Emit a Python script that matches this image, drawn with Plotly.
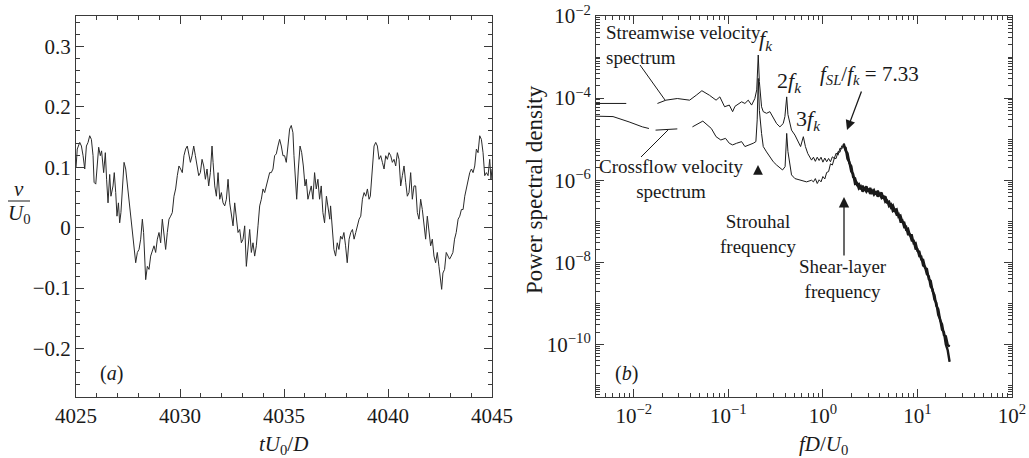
import plotly.graph_objects as go

# ---------------- data: panel (a) time series ----------------
t_a = [4025.00, 4025.06, 4025.18, 4025.26, 4025.34, 4025.42, 4025.50, 4025.58, 4025.66, 4025.74,
       4025.82, 4025.87, 4025.95, 4026.01, 4026.09, 4026.17, 4026.23, 4026.33, 4026.41, 4026.47,
       4026.54, 4026.62, 4026.68, 4026.78, 4026.84, 4026.91, 4026.97, 4027.04, 4027.10, 4027.16,
       4027.23, 4027.31, 4027.39, 4027.47, 4027.55, 4027.63, 4027.71, 4027.79, 4027.87, 4027.95,
       4028.03, 4028.11, 4028.19, 4028.25, 4028.32, 4028.35, 4028.43, 4028.51, 4028.59, 4028.67,
       4028.75, 4028.83, 4028.91, 4028.99, 4029.07, 4029.15, 4029.23, 4029.31, 4029.39, 4029.47,
       4029.55, 4029.63, 4029.71, 4029.79, 4029.87, 4029.95, 4030.03, 4030.11, 4030.19, 4030.27,
       4030.35, 4030.43, 4030.50, 4030.58, 4030.66, 4030.74, 4030.82, 4030.90, 4030.98, 4031.06,
       4031.14, 4031.22, 4031.30, 4031.38, 4031.46, 4031.54, 4031.59, 4031.67, 4031.75, 4031.83,
       4031.91, 4031.99, 4032.07, 4032.15, 4032.23, 4032.31, 4032.39, 4032.47, 4032.55, 4032.63,
       4032.71, 4032.79, 4032.87, 4032.95, 4033.03, 4033.11, 4033.19, 4033.27, 4033.35, 4033.43,
       4033.51, 4033.59, 4033.67, 4033.75, 4033.83, 4033.91, 4033.99, 4034.07, 4034.15, 4034.23,
       4034.31, 4034.39, 4034.47, 4034.55, 4034.63, 4034.71, 4034.79, 4034.87, 4034.95, 4035.03,
       4035.11, 4035.19, 4035.27, 4035.35, 4035.43, 4035.48, 4035.56, 4035.61, 4035.69, 4035.77,
       4035.85, 4035.93, 4036.01, 4036.07, 4036.15, 4036.23, 4036.31, 4036.39, 4036.47, 4036.55,
       4036.63, 4036.71, 4036.79, 4036.87, 4036.95, 4037.04, 4037.12, 4037.20, 4037.24, 4037.32,
       4037.40, 4037.48, 4037.56, 4037.64, 4037.72, 4037.80, 4037.88, 4037.96, 4038.04, 4038.13,
       4038.21, 4038.29, 4038.37, 4038.45, 4038.53, 4038.61, 4038.69, 4038.77, 4038.85, 4038.93,
       4039.01, 4039.09, 4039.15, 4039.20, 4039.25, 4039.33, 4039.41, 4039.49, 4039.57, 4039.65,
       4039.73, 4039.81, 4039.89, 4039.97, 4040.05, 4040.13, 4040.21, 4040.29, 4040.37, 4040.45,
       4040.53, 4040.61, 4040.69, 4040.77, 4040.85, 4040.93, 4041.01, 4041.09, 4041.17, 4041.25,
       4041.33, 4041.41, 4041.49, 4041.57, 4041.65, 4041.73, 4041.81, 4041.89, 4041.97, 4042.05,
       4042.13, 4042.21, 4042.29, 4042.37, 4042.45, 4042.53, 4042.58, 4042.64, 4042.72, 4042.80,
       4042.88, 4042.96, 4043.04, 4043.12, 4043.20, 4043.28, 4043.37, 4043.45, 4043.53, 4043.61,
       4043.69, 4043.77, 4043.85, 4043.93, 4044.01, 4044.09, 4044.17, 4044.25, 4044.33, 4044.41,
       4044.49, 4044.57, 4044.65, 4044.73, 4044.81, 4044.89, 4044.95, 4045.00]
v_a = [0.099, 0.130, 0.141, 0.135, 0.119, 0.097, 0.135, 0.141, 0.152, 0.146,
       0.119, 0.075, 0.072, 0.102, 0.133, 0.119, 0.127, 0.091, 0.124, 0.080,
       0.041, 0.088, 0.052, 0.069, 0.091, 0.058, 0.019, 0.041, 0.008, 0.025,
       0.069, 0.108, 0.097, 0.069, 0.047, 0.025, -0.003, -0.041, -0.058, -0.041,
       -0.036, -0.019, 0.014, -0.008, -0.052, -0.086, -0.064, -0.069, -0.047, -0.036,
       -0.030, -0.041, -0.019, -0.008, -0.025, 0.014, -0.008, -0.036, -0.008, 0.014,
       0.019, 0.025, 0.052, 0.064, 0.086, 0.102, 0.097, 0.091, 0.119, 0.130,
       0.135, 0.119, 0.108, 0.119, 0.135, 0.119, 0.102, 0.086, 0.091, 0.113,
       0.102, 0.080, 0.097, 0.069, 0.091, 0.135, 0.108, 0.069, 0.052, 0.091,
       0.047, 0.058, 0.041, 0.036, 0.047, 0.080, 0.041, 0.025, 0.003, 0.041,
       0.014, -0.008, -0.003, -0.025, -0.019, 0.003, -0.064, -0.025, -0.003, -0.041,
       -0.025, -0.047, -0.030, 0.003, 0.036, 0.047, 0.064, 0.058, 0.069, 0.080,
       0.091, 0.091, 0.097, 0.119, 0.122, 0.135, 0.146, 0.135, 0.119, 0.119,
       0.108, 0.135, 0.163, 0.169, 0.157, 0.119, 0.069, 0.047, 0.097, 0.135,
       0.124, 0.102, 0.069, 0.080, 0.047, 0.058, 0.069, 0.047, 0.091, 0.064,
       0.080, 0.047, 0.069, 0.025, 0.008, 0.052, 0.036, 0.014, 0.036, -0.003,
       -0.036, -0.047, -0.025, -0.036, -0.014, -0.019, -0.008, -0.030, -0.058, -0.019,
       -0.008, -0.003, -0.019, -0.008, 0.003, 0.014, 0.019, 0.047, 0.058, 0.052,
       0.064, 0.047, 0.052, 0.075, 0.091, 0.135, 0.141, 0.135, 0.113, 0.119,
       0.108, 0.097, 0.119, 0.113, 0.124, 0.119, 0.108, 0.113, 0.102, 0.124,
       0.113, 0.069, 0.086, 0.102, 0.075, 0.052, 0.058, 0.091, 0.047, 0.069,
       0.069, 0.025, 0.014, 0.047, 0.030, 0.003, -0.019, 0.019, -0.008, -0.030,
       -0.019, -0.047, -0.058, -0.041, -0.064, -0.091, -0.102, -0.075, -0.069, -0.041,
       -0.047, -0.052, -0.047, -0.041, -0.019, -0.008, 0.014, 0.019, 0.030, 0.030,
       0.052, 0.064, 0.080, 0.091, 0.097, 0.091, 0.102, 0.130, 0.124, 0.152,
       0.146, 0.124, 0.086, 0.091, 0.086, 0.113, 0.080, 0.097]

# ---------------- data: panel (b) spectra (log10 values) ----------------
# shared high-frequency band abscissae (log10 fD/U0)
logf_band = [-0.14, -0.12, -0.10, -0.08, -0.06, -0.04, -0.02, 0.00, 0.02, 0.04,
             0.06, 0.08, 0.10, 0.12, 0.14, 0.16, 0.18, 0.20, 0.22, 0.24,
             0.26, 0.28, 0.30, 0.32, 0.34, 0.36, 0.38, 0.40, 0.42, 0.44,
             0.46, 0.48, 0.50, 0.52, 0.54, 0.56, 0.58, 0.60, 0.62, 0.64,
             0.66, 0.68, 0.70, 0.72, 0.74, 0.76, 0.78, 0.80, 0.82, 0.84,
             0.86, 0.88, 0.90, 0.92, 0.94, 0.96, 0.98, 1.00, 1.02, 1.04,
             1.06, 1.08, 1.10, 1.12, 1.14, 1.16, 1.18, 1.20, 1.22, 1.24,
             1.26, 1.28, 1.30, 1.32, 1.34]

logf_stream_low = [-2.40, -2.24, -2.08, None, -1.75, -1.66, -1.54, -1.41, -1.34, -1.28,
                   -1.20, -1.13, -1.09, -1.04, -0.99, -0.955, -0.93, -0.913, -0.86, -0.825,
                   -0.79, -0.754, -0.72, -0.70, -0.684, -0.672, -0.66, -0.649, -0.631, -0.596,
                   -0.561, -0.525, -0.49, -0.455, -0.42, -0.402, -0.383, -0.37, -0.356, -0.332,
                   -0.296, -0.261, -0.236, -0.207, -0.185, -0.16]
logpsd_stream_low = [-4.13, -4.13, -4.13, None, -4.13, -4.05, -4.01, -4.05, -3.93, -3.82,
                     -3.93, -4.05, -3.97, -4.21, -4.17, -4.33, -4.20, -4.17, -4.09, -4.13,
                     -4.05, -4.17, -4.01, -3.80, -2.95, -3.60, -4.05, -4.21, -4.33, -4.37,
                     -4.33, -4.49, -4.62, -4.70, -4.62, -4.45, -3.97, -4.40, -4.53, -4.78,
                     -4.90, -5.06, -5.18, -4.94, -5.18, -5.35]
logpsd_stream_band = [-5.42, -5.51, -5.44, -5.54, -5.44, -5.52, -5.44, -5.56, -5.46, -5.55,
                      -5.47, -5.55, -5.43, -5.47, -5.34, -5.39, -5.22, -5.24, -5.11, -5.28,
                      -5.34, -5.58, -5.66, -5.92, -5.95, -6.11, -6.09, -6.22, -6.14, -6.22,
                      -6.15, -6.28, -6.19, -6.30, -6.24, -6.35, -6.26, -6.35, -6.30, -6.45,
                      -6.39, -6.54, -6.52, -6.66, -6.61, -6.74, -6.71, -6.89, -6.86, -7.02,
                      -7.03, -7.20, -7.18, -7.34, -7.34, -7.54, -7.53, -7.72, -7.74, -7.93,
                      -7.94, -8.13, -8.16, -8.41, -8.45, -8.70, -8.80, -9.06, -9.14, -9.41,
                      -9.51, -9.77, -9.80, -10.01, -10.05]

logf_cross_low = [-2.40, -2.22, -2.05, -1.91, -1.84, None, -1.77, -1.64, -1.54, None,
                  -1.38, -1.27, -1.18, -1.13, -1.08, -1.03, -0.99, -0.955, -0.913, -0.86,
                  -0.825, -0.772, -0.737, -0.709, -0.695, -0.684, -0.672, -0.649, -0.631, -0.596,
                  -0.561, -0.525, -0.49, -0.455, -0.427, -0.40, -0.383, -0.37, -0.356, -0.332,
                  -0.296, -0.243, -0.173, -0.12]
logpsd_cross_low = [-4.44, -4.45, -4.58, -4.70, -4.74, None, -4.78, -4.76, -4.75, None,
                    -4.70, -4.56, -4.74, -4.94, -5.02, -4.98, -5.10, -5.14, -5.10, -5.06,
                    -5.18, -5.14, -5.10, -5.06, -4.53, -3.52, -4.30, -4.86, -5.18, -5.31,
                    -5.43, -5.55, -5.63, -5.71, -5.75, -5.67, -4.86, -5.30, -5.51, -5.87,
                    -5.96, -6.00, -6.04, -6.00]
logpsd_cross_band = [-6.04, -5.96, -6.08, -5.99, -6.04, -5.91, -5.97, -5.81, -5.79, -5.60,
                     -5.63, -5.47, -5.47, -5.30, -5.32, -5.16, -5.19, -5.21, -5.48, -5.56,
                     -5.79, -5.85, -6.09, -6.07, -6.20, -6.15, -6.28, -6.20, -6.28, -6.21,
                     -6.33, -6.26, -6.35, -6.28, -6.40, -6.33, -6.43, -6.38, -6.53, -6.50,
                     -6.63, -6.59, -6.75, -6.72, -6.84, -6.82, -7.00, -6.98, -7.14, -7.13,
                     -7.32, -7.32, -7.47, -7.47, -7.67, -7.68, -7.85, -7.86, -8.08, -8.11,
                     -8.29, -8.34, -8.59, -8.66, -8.91, -8.99, -9.28, -9.39, -9.64, -9.70,
                     -10.00, -10.14, -10.42]

a_xticks = [4025, 4030, 4035, 4040, 4045]
b_xtickvals = [1e-2, 1e-1, 1e0, 1e1, 1e2]
b_xticktext = ["10<sup>\u22122</sup>", "10<sup>\u22121</sup>", "10<sup>0</sup>", "10<sup>1</sup>", "10<sup>2</sup>"]
b_ytickvals = [1e-2, 1e-4, 1e-6, 1e-8, 1e-10]
b_yticktext = ["10<sup>\u22122</sup>", "10<sup>\u22124</sup>", "10<sup>\u22126</sup>", "10<sup>\u22128</sup>", "10<sup>\u221210</sup>"]

assert len(t_a) == len(v_a)
assert len(logf_stream_low) == len(logpsd_stream_low)
assert len(logf_cross_low) == len(logpsd_cross_low)
assert len(logf_band) == len(logpsd_stream_band)
assert len(logf_band[2:]) == len(logpsd_cross_band)

# ---------------- figure ----------------
W, H = 1029, 458
FONT = "Liberation Serif, Times New Roman, Times, serif"
INK = "#1a1a1a"
AX = "#3a3a3a"


def px(x):
    return x / W


def py(y):
    return 1 - y / H


def unlog(seq):
    return [None if v is None else 10 ** v for v in seq]


fig = go.Figure()
fig.add_trace(go.Scatter(x=t_a, y=v_a, mode="lines", line=dict(color="#2b2b2b", width=1),
                         xaxis="x", yaxis="y", hoverinfo="skip"))

fig.add_trace(go.Scatter(x=unlog(logf_stream_low + logf_band), y=unlog(logpsd_stream_low + logpsd_stream_band),
                         mode="lines", line=dict(color=INK, width=1), connectgaps=False,
                         xaxis="x2", yaxis="y2", hoverinfo="skip"))
fig.add_trace(go.Scatter(x=unlog(logf_cross_low + logf_band[2:]), y=unlog(logpsd_cross_low + logpsd_cross_band),
                         mode="lines", line=dict(color=INK, width=1), connectgaps=False,
                         xaxis="x2", yaxis="y2", hoverinfo="skip"))
# heavier stroke where the two noisy spectra overlap (beyond the shear-layer peak)
K = 18
fig.add_trace(go.Scatter(x=unlog(logf_band[K:]), y=unlog(logpsd_stream_band[K:]),
                         mode="lines", line=dict(color=INK, width=2.4), xaxis="x2", yaxis="y2", hoverinfo="skip"))
fig.add_trace(go.Scatter(x=unlog(logf_band[K:]), y=unlog(logpsd_cross_band[K - 2:]),
                         mode="lines", line=dict(color=INK, width=2.4), xaxis="x2", yaxis="y2", hoverinfo="skip"))

common = dict(showline=True, linecolor=AX, linewidth=1, mirror="allticks", ticks="inside",
              ticklen=8, tickwidth=1, tickcolor=AX, showgrid=False, zeroline=False,
              automargin=False,
              tickfont=dict(family=FONT, size=21, color=INK))

minor_x2 = [m * 10 ** e for e in range(-3, 2) for m in range(2, 10)]
minor_y2 = [m * 10 ** e for e in range(-12, -2) for m in range(1, 10)]

fig.update_layout(
    width=W, height=H, margin=dict(l=0, r=0, t=0, b=0, pad=0, autoexpand=False),
    paper_bgcolor="white", plot_bgcolor="white", showlegend=False,
    font=dict(family=FONT, color=INK),
    xaxis=dict(domain=[px(76), px(492)], range=[4025, 4045], tickmode="array", tickvals=a_xticks,
               minor=dict(ticks="inside", ticklen=4, tickcolor=AX, tickmode="linear", tick0=4025, dtick=1),
               anchor="y", **common),
    yaxis=dict(domain=[py(397), py(16)], range=[-0.28, 0.35], tickmode="linear", tick0=0, dtick=0.1,
               minor=dict(ticks="inside", ticklen=4, tickcolor=AX, tickmode="linear", tick0=0, dtick=0.02),
               anchor="x", **common),
    xaxis2=dict(domain=[px(596), px(1012)], type="log", range=[-2.4, 2], tickmode="array",
                tickvals=b_xtickvals, ticktext=b_xticktext,
                minor=dict(ticks="inside", ticklen=4, tickcolor=AX, tickmode="array", tickvals=minor_x2),
                anchor="y2", **common),
    yaxis2=dict(domain=[py(397), py(16)], type="log", range=[-11.28, -2], tickmode="array",
                tickvals=b_ytickvals, ticktext=b_yticktext,
                minor=dict(ticks="inside", ticklen=4, tickcolor=AX, tickmode="array", tickvals=minor_y2),
                anchor="x2", **common),
)


def note(text, x, y, size=18, xanchor="center", align="center", angle=0):
    fig.add_annotation(text=text, x=px(x), y=py(y), xref="paper", yref="paper", showarrow=False,
                       xanchor=xanchor, yanchor="middle", align=align, textangle=angle,
                       font=dict(family=FONT, size=size, color=INK))


def arrow(xh, yh, xt, yt, size=1.2, width=1):
    fig.add_annotation(text="", x=px(xh), y=py(yh), xref="paper", yref="paper",
                       ax=xt - xh, ay=yt - yh, axref="pixel", ayref="pixel",
                       showarrow=True, arrowhead=2, arrowsize=size, arrowwidth=width, arrowcolor=INK)


def seg(x0, y0, x1, y1):
    fig.add_shape(type="line", xref="paper", yref="paper", x0=px(x0), y0=py(y0), x1=px(x1), y1=py(y1),
                  line=dict(color=INK, width=1))


# panel (a) labels
note("<i>tU</i><sub>0</sub>/<i>D</i>", 283, 445, size=21)
note("<i>v</i>", 19, 189, size=21)
seg(8, 201, 30, 201)
note("<i>U</i><sub>0</sub>", 19, 214, size=21)
note("(<i>a</i>)", 111, 373, size=20)

# panel (b) labels
note("<i>fD</i>/<i>U</i><sub>0</sub>", 823, 445, size=21)
note("Power spectral density", 535, 190, size=23, angle=-90)
note("(<i>b</i>)", 626, 373, size=20)
note("Streamwise velocity<br>spectrum", 604, 45, size=19, xanchor="left", align="left")
seg(640, 65, 665, 100)
note("Crossflow velocity<br>spectrum", 671, 179, size=19)
seg(641, 157, 668, 130)
note("<i>f</i><sub><i>k</i></sub>", 766, 40, size=22)
note("2<i>f</i><sub><i>k</i></sub>", 789, 82, size=22)
note("3<i>f</i><sub><i>k</i></sub>", 808, 120, size=22)
note("<i>f</i><sub><i>SL</i></sub>/<i>f</i><sub><i>k</i></sub> = 7.33", 869, 75, size=21)
arrow(847, 130, 862, 90, size=1.5, width=1.3)
arrow(758, 165, 758, 175, size=1.5, width=1.3)
note("Strouhal<br>frequency", 758, 234, size=19)
arrow(844, 197, 844, 257, size=1.6, width=1.3)
note("Shear-layer<br>frequency", 843, 279, size=19)

fig.write_html("out.html")
